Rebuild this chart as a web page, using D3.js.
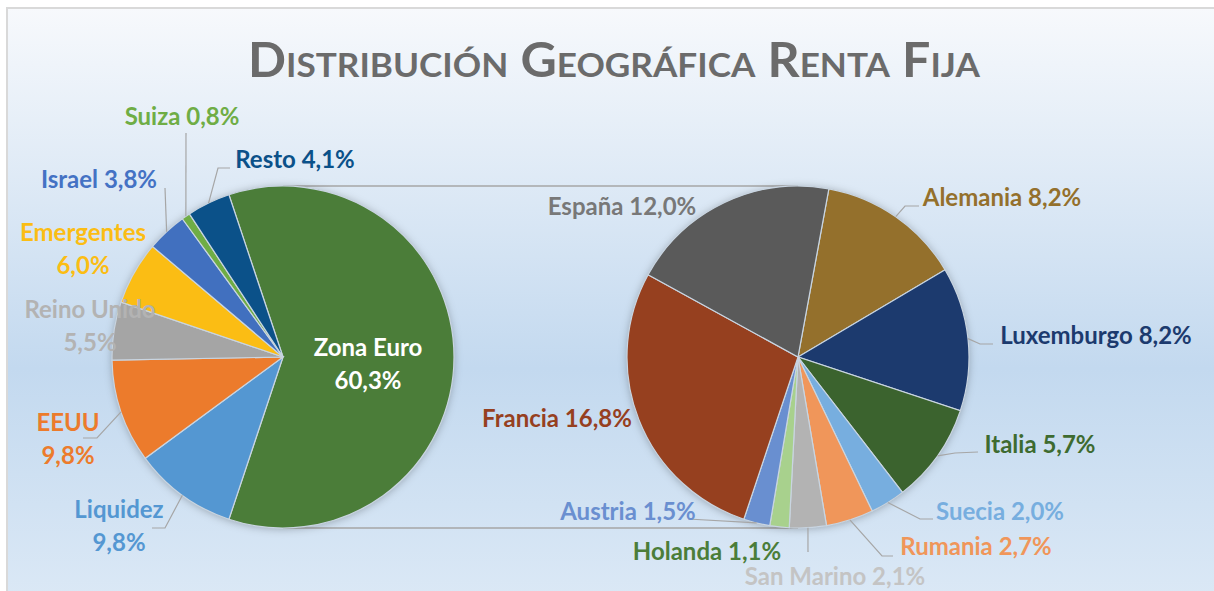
<!DOCTYPE html>
<meta charset="utf-8">
<style>
body { margin: 0; background: #fff; }
.chart { font-family: "Lato", "Open Sans", sans-serif; font-weight: 700; }
.leader { fill: none; stroke: #a6a6a6; stroke-width: 1.2; }
.connector { stroke: #a6a6a6; stroke-width: 1.6; }
.slice { stroke: #c9d5e1; stroke-width: 1.2; }
</style>
<svg class="chart" width="1214" height="591"></svg>
<script src="https://d3js.org/d3.v7.min.js"></script>
<script>

// main pie
var mainNames  = ["Zona Euro", "Liquidez", "EEUU", "Reino Unido", "Emergentes", "Israel", "Suiza", "Resto"];
var mainValues = [60.3, 9.8, 9.8, 5.5, 6.0, 3.8, 0.8, 4.1];
var mainColors = ["#4b7d39", "#5497d2", "#ec7b2c", "#a5a5a5", "#fbbd14", "#4170bf", "#6fad45", "#0b5189"];

// breakdown of Zona Euro
var euroNames  = ["Alemania", "Luxemburgo", "Italia", "Suecia", "Rumania", "San Marino", "Holanda", "Austria", "Francia", "España"];
var euroValues = [8.2, 8.2, 5.7, 2.0, 2.7, 2.1, 1.1, 1.5, 16.8, 12.0];
var euroColors = ["#94702c", "#1c3a6e", "#3b632e", "#77aedf", "#f0965a", "#b3b3b3", "#a8d18d", "#698fd0", "#96401f", "#5a5a5a"];

var fmt = function(v) { return v.toFixed(1).replace(".", ","); };

var svg = d3.select("svg"),
    W = +svg.attr("width"),
    H = +svg.attr("height");

var defs = svg.append("defs");
var grad = defs.append("linearGradient")
    .attr("id", "bg").attr("x1", 0).attr("y1", 0).attr("x2", 0).attr("y2", 1);
grad.append("stop").attr("offset", "0%").attr("stop-color", "#f7f9fc");
grad.append("stop").attr("offset", "60%").attr("stop-color", "#c3d9ef");
grad.append("stop").attr("offset", "100%").attr("stop-color", "#dce9f6");

var shadow = defs.append("filter").attr("id", "shadow")
    .attr("x", "-20%").attr("y", "-20%").attr("width", "140%").attr("height", "140%");
shadow.append("feDropShadow")
    .attr("dx", 0).attr("dy", 1).attr("stdDeviation", 4)
    .attr("flood-color", "#000").attr("flood-opacity", 0.28);

svg.append("rect")
    .attr("x", 7).attr("y", 8)
    .attr("width", W + 10).attr("height", H + 10)
    .attr("fill", "url(#bg)")
    .attr("stroke", "#d9d9d9").attr("stroke-width", 2);

svg.append("text")
    .attr("x", 614).attr("y", 77)
    .attr("text-anchor", "middle")
    .attr("textLength", 732)
    .attr("lengthAdjust", "spacingAndGlyphs")
    .style("font-size", "47px")
    .style("font-variant", "small-caps")
    .style("fill", "#6b6b6b")
    .text("Distribución Geográfica Renta Fija");

var R = 171,
    left = {cx: 283, cy: 357},
    right = {cx: 798, cy: 357};

var deg = Math.PI / 180;

var mainData = mainNames.map(function(n, i) { return {name: n, value: mainValues[i], color: mainColors[i]}; });
var euroData = euroNames.map(function(n, i) { return {name: n, value: euroValues[i], color: euroColors[i]}; });

// split slice centred on the right side
var euroSpan = 360 * mainValues[0] / d3.sum(mainValues);
var mainPie = d3.pie().sort(null).value(function(d) { return d.value; })
    .startAngle((90 - euroSpan / 2) * deg)
    .endAngle((90 - euroSpan / 2 + 360) * deg);
var euroPie = d3.pie().sort(null).value(function(d) { return d.value; })
    .startAngle(10.4 * deg)
    .endAngle(370.4 * deg);

var arc = d3.arc().innerRadius(0).outerRadius(R);
var edge = d3.arc().innerRadius(R).outerRadius(R);

// connectors between the two pies
svg.append("line").attr("class", "connector")
    .attr("x1", left.cx).attr("y1", left.cy - R).attr("x2", right.cx).attr("y2", right.cy - R);
svg.append("line").attr("class", "connector")
    .attr("x1", left.cx).attr("y1", left.cy + R).attr("x2", right.cx).attr("y2", right.cy + R);

var gL = svg.append("g").attr("transform", "translate(" + left.cx + "," + left.cy + ")");
var gR = svg.append("g").attr("transform", "translate(" + right.cx + "," + right.cy + ")");

var mainArcs = mainPie(mainData);
var euroArcs = euroPie(euroData);

gL.append("circle").attr("r", R).attr("fill", "#888").attr("filter", "url(#shadow)");
gR.append("circle").attr("r", R).attr("fill", "#888").attr("filter", "url(#shadow)");

gL.selectAll(".slice").data(mainArcs).enter().append("path")
    .attr("class", "slice")
    .attr("d", arc)
    .attr("fill", function(d) { return d.data.color; });
gR.selectAll(".slice").data(euroArcs).enter().append("path")
    .attr("class", "slice")
    .attr("d", arc)
    .attr("fill", function(d) { return d.data.color; });

// label layout: text centre, line break, leader points (absolute)
var labelLayout = {
    "Zona Euro":   {x: 368, y: 348, two: true, color: "#ffffff"},
    "Liquidez":    {x: 119, y: 510, two: true, color: "#5497d2", lead: [[152, 528], [165, 528]]},
    "EEUU":        {x: 68,  y: 423, two: true, color: "#ec7b2c", lead: [[83, 438], [97, 438]]},
    "Reino Unido": {x: 90,  y: 310, two: true, color: "#b3b3b3"},
    "Emergentes":  {x: 83,  y: 233, two: true, color: "#fbbd14"},
    "Israel":      {x: 99,  y: 180, color: "#4472c4", lead: [[165, 188]]},
    "Suiza":       {x: 182, y: 117, color: "#6fad45", lead: [[186, 133]]},
    "Resto":       {x: 295, y: 160, color: "#0b5189", lead: [[230, 168], [218, 168]]},
    "Alemania":    {x: 1002, y: 198, color: "#94702c", lead: [[919, 206], [905, 206]]},
    "Luxemburgo":  {x: 1096, y: 336, color: "#1c3a6e", lead: [[993, 344], [980, 344]]},
    "Italia":      {x: 1040, y: 445, color: "#3e6b30", lead: [[978, 452], [955, 453]]},
    "Suecia":      {x: 1000, y: 512, color: "#77aedf", lead: [[933, 519], [920, 519]]},
    "Rumania":     {x: 976, y: 547, color: "#f0965a", lead: [[893, 556], [882, 556]]},
    "San Marino":  {x: 835, y: 577, color: "#c4c4c4", lead: [[808, 552]]},
    "Holanda":     {x: 707, y: 552, color: "#4b7d39"},
    "Austria":     {x: 628, y: 512, color: "#6a8fd0", lead: [[688, 519]]},
    "Francia":     {x: 557, y: 419, color: "#96401f"},
    "España":      {x: 622, y: 207, color: "#787878"}
};

function drawLabels(arcs, c) {
    arcs.forEach(function(d) {
        var L = labelLayout[d.data.name];
        if (L.lead) {
            var p = edge.centroid(d);
            var pts = L.lead.concat([[c.cx + p[0], c.cy + p[1]]]);
            svg.append("path").attr("class", "leader").attr("d", d3.line()(pts));
        }
        var t = svg.append("text")
            .attr("text-anchor", "middle")
            .style("font-size", "24px")
            .style("fill", L.color);
        if (L.two) {
            t.append("tspan").attr("x", L.x).attr("y", L.y).attr("dy", "0.35em").text(d.data.name);
            t.append("tspan").attr("x", L.x).attr("y", L.y + 33).attr("dy", "0.35em").text(fmt(d.data.value) + "%");
        } else {
            t.attr("x", L.x).attr("y", L.y).attr("dy", "0.35em").text(d.data.name + " " + fmt(d.data.value) + "%");
        }
    });
}

drawLabels(mainArcs, left);
drawLabels(euroArcs, right);

</script>
